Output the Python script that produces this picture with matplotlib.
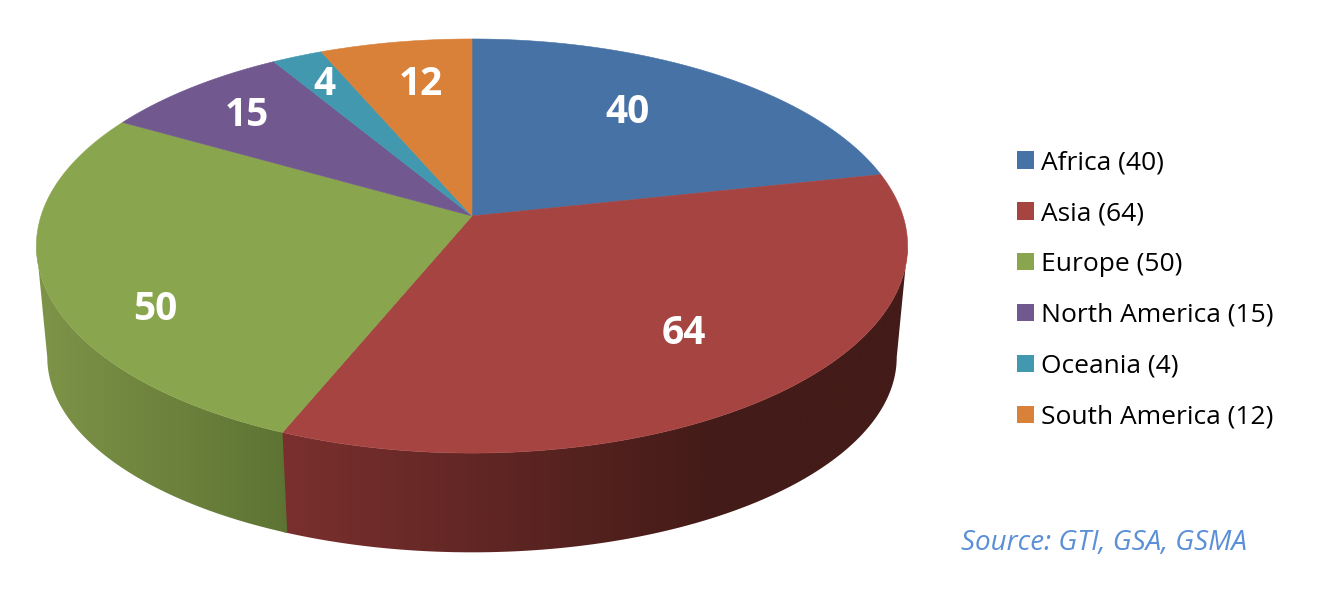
#!/usr/bin/env python3
"""Perspective 3D pie of deployments per region, drawn by hand on a pixel-sized axes."""
import matplotlib

matplotlib.use("Agg")
import matplotlib.pyplot as plt
import numpy as np
from matplotlib.colors import LinearSegmentedColormap
from matplotlib.patches import Patch, Polygon

regions = ["Africa", "Asia", "Europe", "North America", "Oceania", "South America"]
counts = [40, 64, 50, 15, 4, 12]
colors = ["#4672a6", "#a64442", "#89a54e", "#71588f", "#4198af", "#d98139"]

# label placement, pixels relative to a fixed radius on each slice
label_shift = [(-25, 2), (-5, -4), (-13, 44), (-18, -6), (-18, -13), (6, -2)]

# perspective of the top face, fitted on the picture
CX, CY = 472, 216
RX, RY = 431, 202.7
PERSP = 0.145
# bottom face is a bit smaller and lies lower
BOTTOM_CY = 329
BOTTOM_SX, BOTTOM_SY = 0.975, 0.942

plt.rcParams["font.family"] = ["Open Sans", "DejaVu Sans"]


def project(theta, r=1.0, bottom=False):
    # theta runs clockwise from 12 o'clock, in radians
    x = r * np.sin(theta)
    y = r * np.cos(theta)
    w = 1 + PERSP * y
    if bottom:
        return CX + BOTTOM_SX * RX * x / w, BOTTOM_CY - BOTTOM_SY * RY * y / w
    return CX + RX * x / w, CY - RY * y / w


def side_face(ax, t0, t1, cmap, x0, x1):
    t = np.linspace(t0, t1, 200)
    top = np.column_stack(project(t))
    bot = np.column_stack(project(t[::-1], bottom=True))
    poly = Polygon(np.vstack([top, bot]), closed=True, fc="none", ec="none")
    ax.add_patch(poly)
    grad = np.linspace(0, 1, 512).reshape(1, -1)
    im = ax.imshow(grad, cmap=cmap, extent=(x0, x1, 602, 0), aspect="auto", zorder=1)
    im.set_clip_path(poly)


def main():
    fig = plt.figure(figsize=(13.23, 6.02), dpi=100)
    ax = fig.add_axes([0, 0, 1, 1])

    edges = np.cumsum([0] + counts) / sum(counts) * 2 * np.pi
    left_ext = 2 * np.pi - np.arccos(-PERSP)
    right_ext = np.arccos(-PERSP)

    # side walls, only Asia and Europe face the viewer
    red_side = LinearSegmentedColormap.from_list(
        "red_side", [(0, "#7b302e"), (0.7, "#431b18"), (1, "#431b18")])
    green_side = LinearSegmentedColormap.from_list("green_side", [(0, "#7e9448"), (1, "#5d7333")])
    side_face(ax, right_ext, edges[2] + 0.01, red_side, 275, 910)
    side_face(ax, edges[2], left_ext, green_side, 35, 290)

    # top face
    for i, c in enumerate(colors):
        t = np.linspace(edges[i], edges[i + 1], 150)
        px, py = project(t)
        pts = np.column_stack([np.r_[CX, px], np.r_[CY, py]])
        ax.add_patch(Polygon(pts, closed=True, fc=c, ec=c, lw=0.4, zorder=2))

    # value labels
    for i, v in enumerate(counts):
        mid = (edges[i] + edges[i + 1]) / 2
        lx, ly = project(mid, r=0.72)
        dx, dy = label_shift[i]
        ax.text(lx + dx, ly + dy, str(v), color="white", fontsize=28, fontweight="bold",
                ha="center", va="center", zorder=3)

    handles = [Patch(fc=c, ec="none") for c in colors]
    labels = [f"{r} ({v})" for r, v in zip(regions, counts)]
    ax.legend(handles, labels, loc="upper left", bbox_to_anchor=(1004, 137),
              bbox_transform=ax.transData, frameon=False, fontsize=19,
              handlelength=0.64, handleheight=0.64, handletextpad=0.27,
              labelspacing=0.98, borderpad=0.5, borderaxespad=0)

    ax.text(961, 543, "Source: GTI, GSA, GSMA", color="#5b8fd6", fontsize=20,
            fontstyle="italic", ha="left", va="center")

    ax.set_xlim(0, 1323)
    ax.set_ylim(602, 0)
    ax.axis("off")
    fig.savefig("out.png", dpi=100, facecolor="white")
    plt.close(fig)


if __name__ == "__main__":
    main()
